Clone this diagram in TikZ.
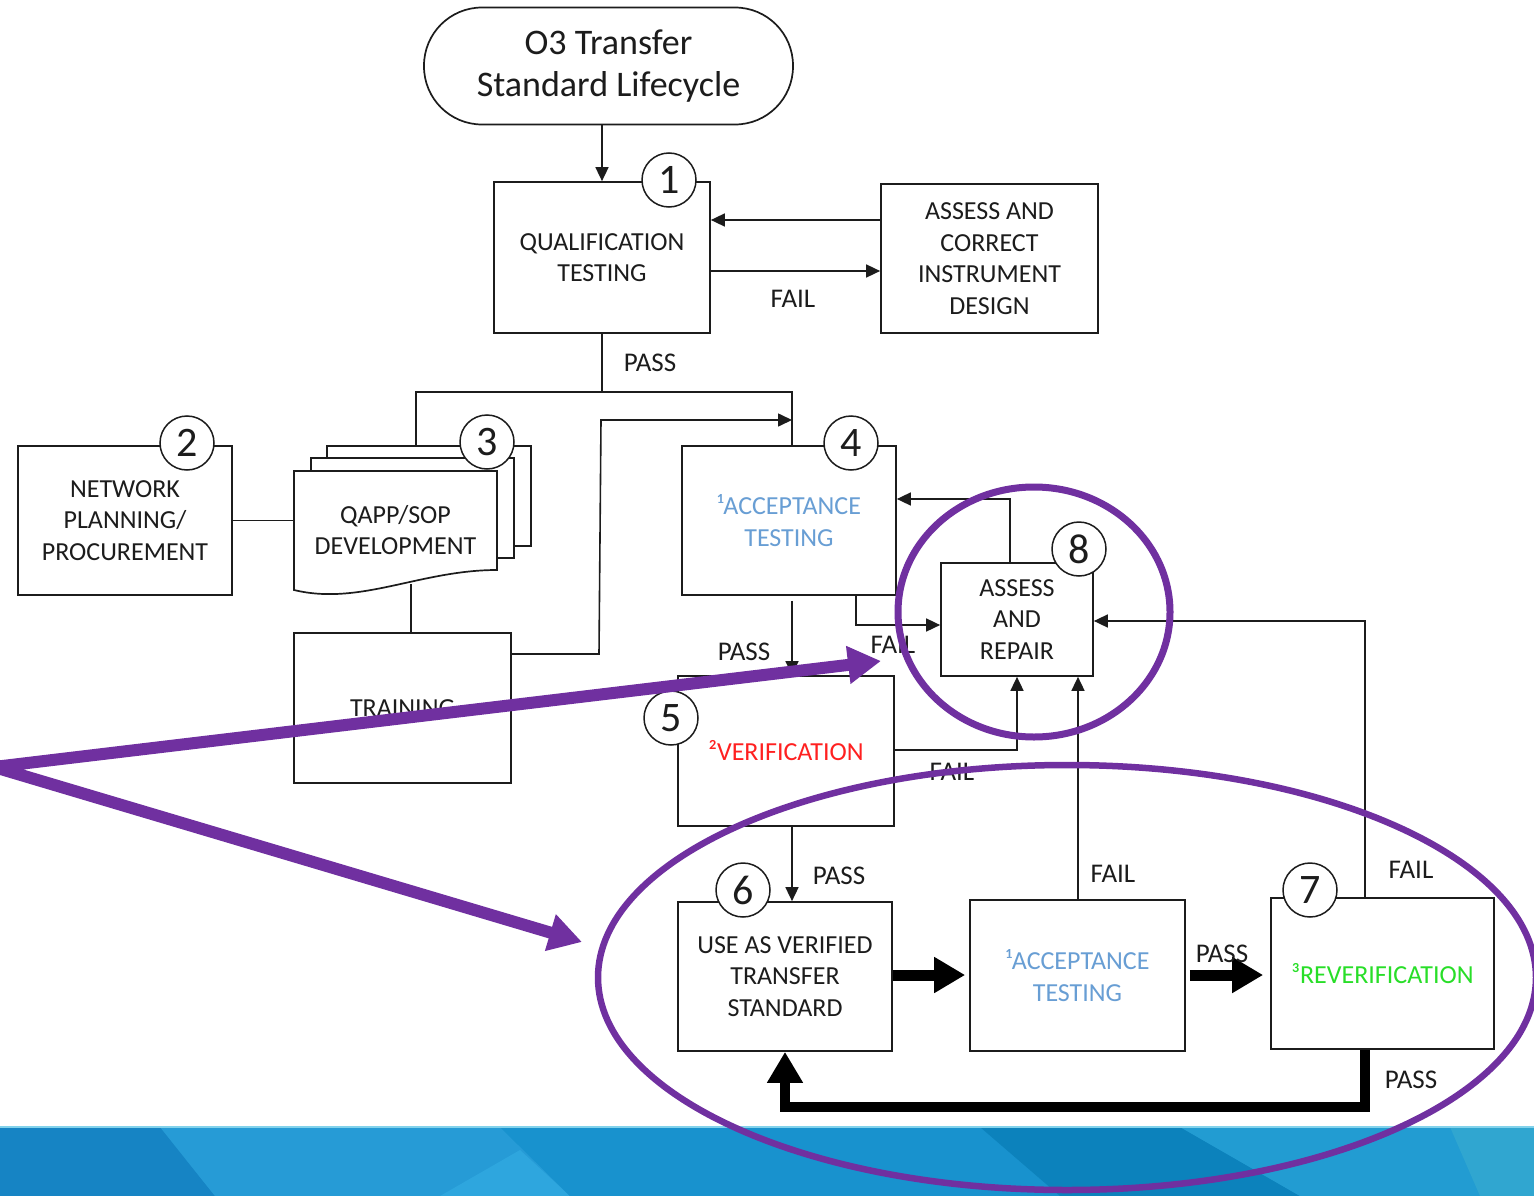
\documentclass[tikz,border=0pt]{standalone}
\usepackage{fontspec}
\setmainfont{Carlito}
\usetikzlibrary{arrows.meta,calc}

\definecolor{ink}{RGB}{28,28,28}
\definecolor{accblue}{RGB}{104,158,212}
\definecolor{verred}{RGB}{255,32,32}
\definecolor{revgreen}{RGB}{40,222,40}
\definecolor{hilite}{RGB}{112,48,160}

\newcommand\bxfont{\fontsize{26}{31.5}\selectfont}
\newcommand\lbfont{\fontsize{27}{32}\selectfont}
\newcommand\nmfont{\fontsize{42}{42}\selectfont}
\newcommand\titlefnt{\fontsize{36}{42}\selectfont}

\tikzset{
  box/.style={draw=ink, line width=1.7pt, fill=white, align=center,
              inner sep=0pt, font=\bxfont, text=ink},
  sheet/.style={draw=ink, line width=1.7pt, fill=white, inner sep=0pt},
  num/.style={circle, draw=ink, line width=1.5pt, fill=white,
              minimum size=54pt, inner sep=0pt, font=\nmfont, text=ink},
  lbl/.style={font=\lbfont, text=ink, inner sep=0pt},
  ln/.style={draw=ink, line width=1.6pt},
  arr/.style={ln, -{Triangle[length=14pt,width=13pt]}},
  thk/.style={draw=black, line width=11pt, line join=miter,
              -{Triangle[length=31pt,width=34pt]}},
  hl/.style={draw=hilite}
}

\begin{document}
\begin{tikzpicture}[x=1pt,y=-1pt]
\clip (0,0) rectangle (1534,1196);
\fill[white] (0,0) rectangle (1534,1196);

% footer band
\fill[fill={rgb,255:red,28;green,146;blue,206}] (0,1127) rectangle (1534,1196);
\fill[fill={rgb,255:red,22;green,132;blue,196}] (0,1127) -- (160,1127) -- (215,1196) -- (0,1196) -- cycle;
\fill[fill={rgb,255:red,38;green,155;blue,214}] (160,1127) -- (500,1127) -- (570,1196) -- (215,1196) -- cycle;
\fill[fill={rgb,255:red,46;green,166;blue,222}] (440,1196) -- (520,1150) -- (570,1196) -- cycle;
\fill[fill={rgb,255:red,24;green,146;blue,206}] (500,1127) -- (980,1127) -- (1060,1196) -- (570,1196) -- cycle;
\fill[fill={rgb,255:red,12;green,130;blue,188}] (980,1127) -- (1180,1127) -- (1300,1196) -- (1060,1196) -- cycle;
\fill[fill={rgb,255:red,34;green,156;blue,210}] (1180,1127) -- (1534,1127) -- (1534,1196) -- (1300,1196) -- cycle;
\fill[fill={rgb,255:red,48;green,166;blue,208}] (1450,1127) -- (1534,1127) -- (1534,1196) -- (1480,1196) -- cycle;
\draw[draw={rgb,255:red,130;green,210;blue,235}, line width=2pt] (0,1127) -- (1534,1127);

% process boxes
\node[box, minimum width=369pt, minimum height=117pt, rounded corners=58pt,
      font=\titlefnt] (start) at (608.5,66) {O3 Transfer\\Standard Lifecycle};
\node[box, minimum width=216pt, minimum height=151pt] (qual) at (602,257.5) {QUALIFICATION\\TESTING};
\node[box, minimum width=217pt, minimum height=149pt] (design) at (989.5,258.5) {ASSESS AND\\CORRECT\\INSTRUMENT\\DESIGN};
\node[box, minimum width=214pt, minimum height=149pt] (plan) at (125,520.5) {NETWORK\\PLANNING/\\PROCUREMENT};
\node[box, minimum width=217pt, minimum height=150pt] (train) at (402.5,708) {TRAINING};
\node[box, minimum width=214pt, minimum height=149pt, text=accblue] (acc) at (789,520.5) {¹ACCEPTANCE\\TESTING};
\node[box, minimum width=152pt, minimum height=113pt] (repair) at (1017,619.5) {ASSESS\\AND\\REPAIR};
\node[box, minimum width=216pt, minimum height=150pt, text=verred] (verif) at (786,751) {²VERIFICATION};
\node[box, minimum width=214pt, minimum height=149pt] (use) at (785,976.5) {USE AS VERIFIED\\TRANSFER\\STANDARD};
\node[box, minimum width=215pt, minimum height=151pt, text=accblue] (acc2) at (1077.5,975.5) {¹ACCEPTANCE\\TESTING};
\node[box, minimum width=223pt, minimum height=151pt, text=revgreen] (rever) at (1382.5,973.5) {³REVERIFICATION};

% document stack
\node[sheet, minimum width=204pt, minimum height=100pt] (sheetc) at (429,496) {};
\node[sheet, minimum width=203pt, minimum height=100pt] (sheetb) at (412.5,508) {};
\path[draw=ink, line width=1.7pt, fill=white]
  (294,471) -- (497,471) -- (497,570) .. controls (420,570) and (360,606) .. (294,590) -- cycle;
\node[align=center, font=\bxfont, text=ink, inner sep=0pt,
      minimum width=203pt, minimum height=112pt] (doc) at (395.5,530) {QAPP/SOP\\DEVELOPMENT};
\coordinate (docbot) at (411,584);

% junction points
\coordinate (jn) at (602,392);
\coordinate (jl) at (416,392);
\coordinate (jr) at (792,392);
\coordinate (tr1) at (599,654);
\coordinate (tr2) at (601,420);

% connectors
\draw[arr] (start.south -| qual.north) -- (qual.north);
\draw[arr] (design.west |- 0,220) -- (qual.east |- 0,220);
\draw[arr] (qual.east |- 0,271) -- (design.west |- 0,271);
\draw[ln] (qual.south) -- (jn);
\draw[ln] (sheetc.north -| jl) -- (jl) -- (jr) -- (acc.north -| jr);
\draw[ln] (plan.east) -- (plan.east -| doc.west);
\draw[ln] (docbot) -- (docbot |- train.north);
\draw[arr] (train.east |- tr1) -- (tr1) -- (tr2) -- (jr |- tr2);
\draw[arr] ([yshift=-5pt]acc.south -| jr) -- (verif.north -| jr);
\draw[arr] (acc.south -| 856,0) -- (856,625) -- (repair.west |- 0,625);
\draw[arr] (repair.north -| 1010,0) -- (1010,499) -- (acc.east |- 0,499);
\draw[arr] (verif.east |- 0,750) -| (repair.south);
\draw[arr] (verif.south -| jr) -- (use.north -| jr);
\draw[arr] (acc2.north -| 1078,0) -- (repair.south -| 1078,0);
\draw[arr] (rever.north -| 1365,0) -- (1365,621) -- (repair.east |- 0,621);
\draw[thk] (use.east |- 0,975) -- ([xshift=-4pt]acc2.west |- 0,975);
\draw[thk] ([xshift=4pt]acc2.east |- 0,975) -- ([xshift=-7pt]rever.west |- 0,975);
\draw[thk, line width=10pt] (rever.south -| 1365,0) -- (1365,1107) -| (use.south);

% step numbers
\node[num] (n1) at (669,180) {1};
\node[num] (n2) at (187,443) {2};
\node[num] (n3) at (487,442) {3};
\node[num] (n4) at (851,443) {4};
\node[num] (n5) at (671,718) {5};
\node[num] (n6) at (743,890) {6};
\node[num] (n7) at (1310,890) {7};
\node[num] (n8) at (1079,549) {8};

% outcome labels
\node[lbl] (l1) at (793,299) {FAIL};
\node[lbl] (l2) at (650,363) {PASS};
\node[lbl] (l3) at (744,652) {PASS};
\node[lbl] (l4) at (893,645) {FAIL};
\node[lbl] (l5) at (952,772) {FAIL};
\node[lbl] (l6) at (839,876) {PASS};
\node[lbl] (l7) at (1113,874) {FAIL};
\node[lbl] (l8) at (1222,954) {PASS};
\node[lbl] (l9) at (1411,870) {FAIL};
\node[lbl] (l10) at (1411,1080) {PASS};

% highlight overlay
\draw[hl, line width=7pt] (1034,612) ellipse [x radius=136, y radius=125];
\draw[hl, line width=6.5pt] (1067,977.5) ellipse [x radius=469, y radius=212.5];
\coordinate (apex) at (-6,767);
\coordinate (tipa) at (881,661);
\coordinate (tipb) at (582,942);
\draw[hl, line width=12pt, line join=miter,
      {Triangle[length=33pt,width=36pt]}-{Triangle[length=33pt,width=36pt]}]
  (tipa) -- (apex) -- (tipb);
\end{tikzpicture}
\end{document}
